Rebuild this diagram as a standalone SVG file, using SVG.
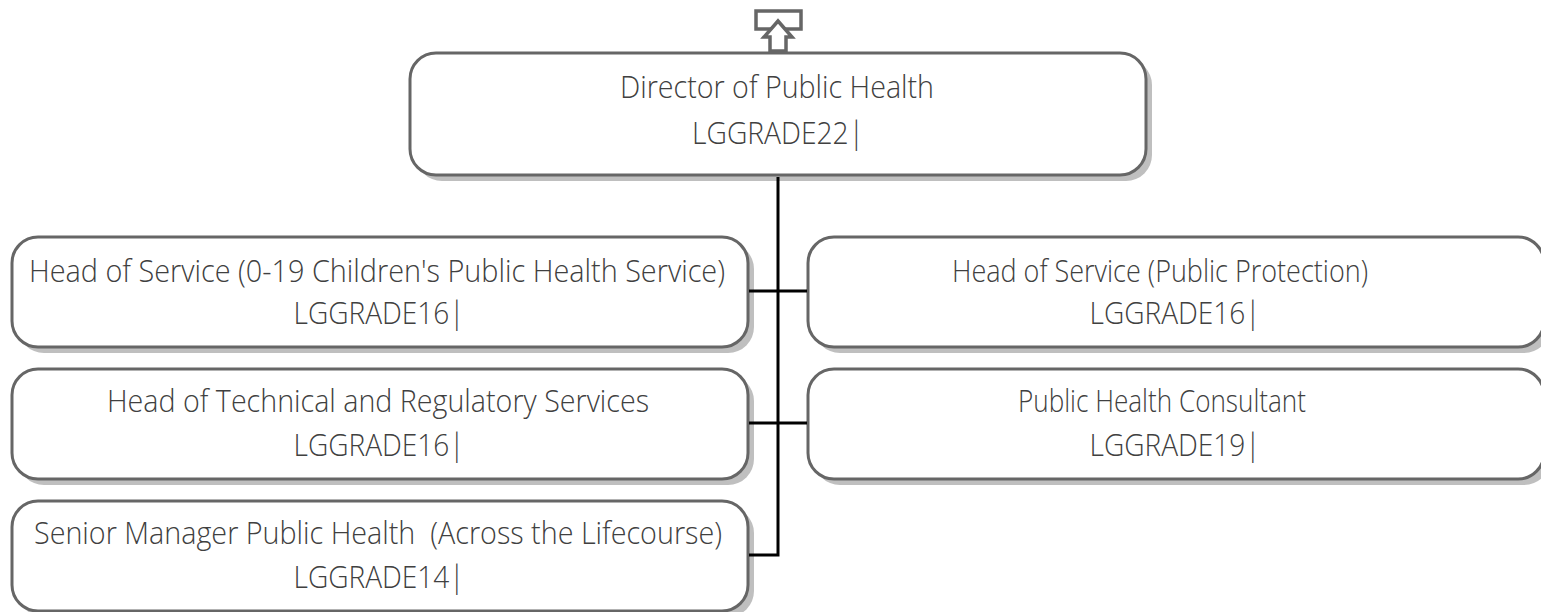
<svg xmlns="http://www.w3.org/2000/svg" width="1541" height="612" viewBox="0 0 1541 612">
<style>
.s{fill:#bfbfbf;stroke:none}
.b{fill:#fff;stroke:#666;stroke-width:3}
text{font-family:"Open Sans","Liberation Sans",sans-serif;font-weight:300;font-size:31px;fill:#404040;text-anchor:middle;white-space:pre}
.c{fill:none;stroke:#000;stroke-width:3}
</style>
<defs>
<rect id="big" width="736" height="122" rx="26" ry="26"/>
<rect id="n" width="736" height="110" rx="26" ry="26"/>
</defs>
<g id="report-marker" fill="#fff" stroke="#666" stroke-width="3.5">
<rect x="756" y="11" width="45" height="18"/>
<path d="M770 51V37H764L778 21L792 37H786V51Z"/>
</g>
<g id="node-director">
<use href="#big" x="416" y="59" class="s"/><use href="#big" x="410" y="53" class="b"/>
<text x="777" y="98" textLength="314" lengthAdjust="spacingAndGlyphs">Director of Public Health</text>
<text x="778" y="144" textLength="172" lengthAdjust="spacingAndGlyphs">LGGRADE22|</text>
</g>
<g id="node-children">
<use href="#n" x="18" y="243" class="s"/><use href="#n" x="12" y="237" class="b"/>
<text x="377" y="282" textLength="696" lengthAdjust="spacingAndGlyphs">Head of Service (0-19 Children's Public Health Service)</text>
<text x="379" y="324" textLength="171" lengthAdjust="spacingAndGlyphs">LGGRADE16|</text>
</g>
<g id="node-protection">
<use href="#n" x="814" y="243" class="s"/><use href="#n" x="808" y="237" class="b"/>
<text x="1160" y="282" textLength="416" lengthAdjust="spacingAndGlyphs">Head of Service (Public Protection)</text>
<text x="1175" y="324" textLength="171" lengthAdjust="spacingAndGlyphs">LGGRADE16|</text>
</g>
<g id="node-technical">
<use href="#n" x="18" y="375" class="s"/><use href="#n" x="12" y="369" class="b"/>
<text x="378" y="412" textLength="542" lengthAdjust="spacingAndGlyphs">Head of Technical and Regulatory Services</text>
<text x="379" y="456" textLength="171" lengthAdjust="spacingAndGlyphs">LGGRADE16|</text>
</g>
<g id="node-consultant">
<use href="#n" x="814" y="375" class="s"/><use href="#n" x="808" y="369" class="b"/>
<text x="1162" y="412" textLength="288" lengthAdjust="spacingAndGlyphs">Public Health Consultant</text>
<text x="1175" y="456" textLength="171" lengthAdjust="spacingAndGlyphs">LGGRADE19|</text>
</g>
<g id="node-senior">
<use href="#n" x="18" y="507" class="s"/><use href="#n" x="12" y="501" class="b"/>
<text x="378" y="544" textLength="688" lengthAdjust="spacingAndGlyphs">Senior Manager Public Health  (Across the Lifecourse)</text>
<text x="379" y="588" textLength="171" lengthAdjust="spacingAndGlyphs">LGGRADE14|</text>
</g>
<g id="connectors">
<path class="c" d="M778 177V555H749M749 291H807M749 423H807"/>
</g>
</svg>
